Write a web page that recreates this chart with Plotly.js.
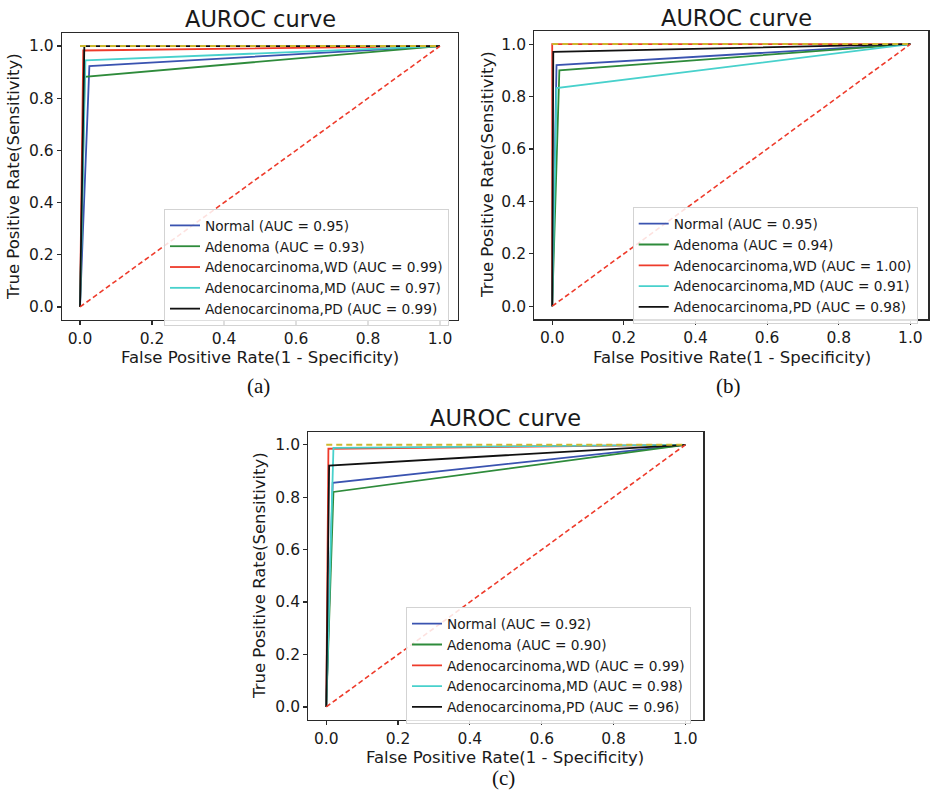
<!DOCTYPE html>
<html>
<head>
<meta charset="utf-8">
<script src="https://cdn.plot.ly/plotly-3.0.1.min.js"></script>
<style>
  html, body { margin: 0; padding: 0; background: #ffffff; }
  #chart { width: 930px; height: 791px; }
</style>
</head>
<body>
<div id="chart"></div>
<script>
// ---------------- data ----------------
const classNames = ['Normal', 'Adenoma', 'Adenocarcinoma,WD', 'Adenocarcinoma,MD', 'Adenocarcinoma,PD'];
const classColors = ['#3a53b0', '#2e8b3b', '#ee3b2b', '#48d1cc', '#111111'];

// panel (a)
const aucA = ['0.95', '0.93', '0.99', '0.97', '0.99'];
const fprA = [[0, 0.026, 1], [0, 0.013, 1], [0, 0.009, 1], [0, 0.015, 1], [0, 0.012, 1]];
const tprA = [[0, 0.923, 1], [0, 0.882, 1], [0, 0.983, 1], [0, 0.945, 1], [0, 1.0, 1]];

// panel (b)
const aucB = ['0.95', '0.94', '1.00', '0.91', '0.98'];
const fprB = [[0, 0.012, 1], [0, 0.020, 1], [0, 0.0, 1], [0, 0.012, 1], [0, 0.003, 1]];
const tprB = [[0, 0.920, 1], [0, 0.900, 1], [0, 1.0, 1], [0, 0.832, 1], [0, 0.970, 1]];

// panel (c)
const aucC = ['0.92', '0.90', '0.99', '0.98', '0.96'];
const fprC = [[0, 0.018, 1], [0, 0.020, 1], [0, 0.006, 1], [0, 0.020, 1], [0, 0.008, 1]];
const tprC = [[0, 0.855, 1], [0, 0.820, 1], [0, 0.985, 1], [0, 0.988, 1], [0, 0.921, 1]];

// reference lines
const chanceX = [0, 1];
const chanceY = [0, 1];
const perfectX = [0, 1];
const perfectY = [1, 1];

// ticks and labels
const tickVals = [0, 0.2, 0.4, 0.6, 0.8, 1.0];
const tickText = ['0.0', '0.2', '0.4', '0.6', '0.8', '1.0'];
const panelTitle = 'AUROC curve';
const xLabel = 'False Positive Rate(1 - Specificity)';
const yLabel = 'True Positive Rate(Sensitivity)';
const captions = ['(a)', '(b)', '(c)'];

// ---------------- build ----------------
const W = 930, H = 791;
const px = v => v / W;
const py = v => 1 - v / H;

const panels = [
  { fpr: fprA, tpr: tprA, auc: aucA, xa: 'x',  ya: 'y',  lg: 'legend'  },
  { fpr: fprB, tpr: tprB, auc: aucB, xa: 'x2', ya: 'y2', lg: 'legend2' },
  { fpr: fprC, tpr: tprC, auc: aucC, xa: 'x3', ya: 'y3', lg: 'legend3' }
];

const traces = [];
panels.forEach(p => {
  classNames.forEach((name, i) => {
    traces.push({
      type: 'scatter', mode: 'lines',
      x: p.fpr[i], y: p.tpr[i],
      xaxis: p.xa, yaxis: p.ya, legend: p.lg,
      name: name + ' (AUC = ' + p.auc[i] + ')',
      line: { color: classColors[i], width: 1.8 },
      hoverinfo: 'skip'
    });
  });
  traces.push({
    type: 'scatter', mode: 'lines', x: chanceX, y: chanceY,
    xaxis: p.xa, yaxis: p.ya, showlegend: false,
    line: { color: '#ee3b2b', width: 1.6, dash: '5px,3px' }, hoverinfo: 'skip'
  });
  traces.push({
    type: 'scatter', mode: 'lines', x: perfectX, y: perfectY,
    xaxis: p.xa, yaxis: p.ya, showlegend: false,
    line: { color: '#cdb92e', width: 2, dash: '6px,4px' }, hoverinfo: 'skip'
  });
});

function axis(d0, d1, anchor) {
  return {
    domain: [d0, d1], anchor: anchor, range: [-0.05, 1.05],
    showgrid: false, zeroline: false,
    showline: true, mirror: true, linecolor: '#2a2a2a', linewidth: 1.2,
    ticks: 'outside', ticklen: 4, tickwidth: 1.2, tickcolor: '#2a2a2a',
    tickvals: tickVals, ticktext: tickText,
    tickfont: { family: 'DejaVu Sans', size: 15.5, color: '#1a1a1a' },
    fixedrange: true
  };
}

function legendBox(x, y) {
  return {
    x: px(x), y: py(y), xref: 'paper', yref: 'paper',
    xanchor: 'left', yanchor: 'top',
    bgcolor: 'rgba(255,255,255,0.85)', bordercolor: '#d3d3d3', borderwidth: 1,
    font: { family: 'DejaVu Sans', size: 13.7, color: '#1a1a1a' },
    tracegroupgap: 0
  };
}

const annotations = [];
function addText(text, x, y, size, opts) {
  annotations.push(Object.assign({
    text: text, x: px(x), y: py(y), xref: 'paper', yref: 'paper',
    xanchor: 'center', yanchor: 'middle', showarrow: false,
    font: { family: 'DejaVu Sans', size: size, color: '#1a1a1a' }
  }, opts || {}));
}
// titles
addText(panelTitle, 260, 19, 22.5);
addText(panelTitle, 736, 18, 22.5);
addText(panelTitle, 505.5, 418, 22.5);
// x labels
addText(xLabel, 260, 357.5, 16.5);
addText(xLabel, 731.5, 357, 16.5);
addText(xLabel, 505.3, 757, 16.5);
// y labels
addText(yLabel, 13.5, 176.5, 16.5, { textangle: -90 });
addText(yLabel, 487, 175, 16.5, { textangle: -90 });
addText(yLabel, 259, 576, 16.5, { textangle: -90 });
// captions
const serif = { family: 'Liberation Serif', size: 21, color: '#111111' };
addText(captions[0], 258.3, 386, 21, { font: serif });
addText(captions[1], 728, 386, 21, { font: serif });
addText(captions[2], 503, 778, 21, { font: serif });

const layout = {
  width: W, height: H,
  margin: { l: 0, r: 0, t: 0, b: 0 },
  paper_bgcolor: '#ffffff', plot_bgcolor: '#ffffff',
  font: { family: 'DejaVu Sans', size: 16, color: '#1a1a1a' },
  showlegend: true,
  xaxis:  axis(px(62),    px(458),   'y'),
  yaxis:  axis(py(320),   py(33),    'x'),
  xaxis2: axis(px(534.3), px(928.3), 'y2'),
  yaxis2: axis(py(319.3), py(31),    'x2'),
  xaxis3: axis(px(308.3), px(703.3), 'y3'),
  yaxis3: axis(py(720),   py(431.7), 'x3'),
  legend:  legendBox(164, 209),
  legend2: legendBox(632.7, 207.3),
  legend3: legendBox(406, 607.3),
  annotations: annotations
};

Plotly.newPlot('chart', traces, layout, { staticPlot: true, displayModeBar: false });
</script>
</body>
</html>
